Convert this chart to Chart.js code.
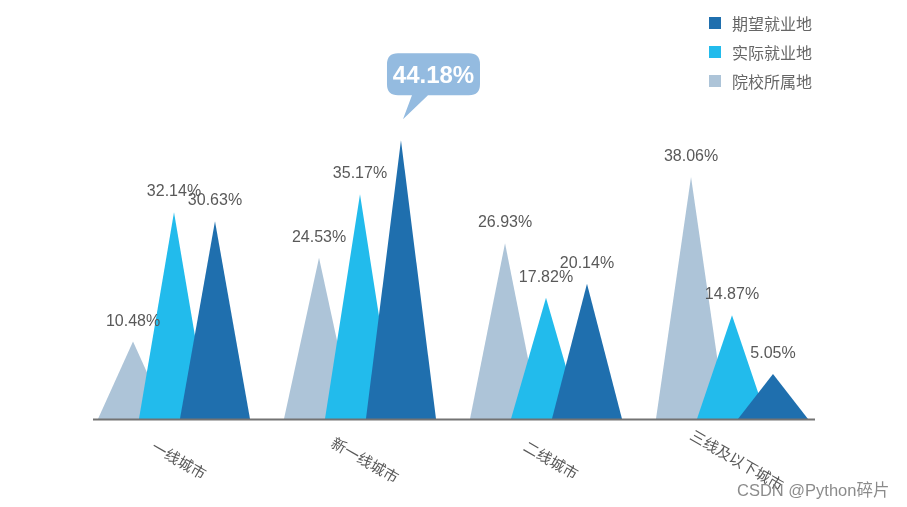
<!DOCTYPE html>
<html>
<head>
<meta charset="utf-8">
<title>就业地分布</title>
<script src="https://cdn.jsdelivr.net/npm/chart.js@4.4.0/dist/chart.umd.min.js"></script>
<style>
  html, body { margin: 0; padding: 0; background: #fff; }
  #wrap { position: relative; width: 907px; height: 507px; overflow: hidden; }
  #c { position: absolute; left: 0; top: 0; }
  .legend { position: absolute; left: 709px; top: 8px; font: 16px "Noto Sans CJK SC", sans-serif; color: #666; }
  .legend .row { display: flex; align-items: center; height: 29px; }
  .legend .sw { width: 12px; height: 12px; margin-right: 11px; }
  .mark { position: absolute; left: 737px; top: 477px; font: 16.5px "Liberation Sans", "Noto Sans CJK SC", sans-serif; color: rgba(110,110,110,0.8); white-space: nowrap; }
</style>
</head>
<body>
<div id="wrap">
  <canvas id="c" width="907" height="507"></canvas>
  <div class="legend" id="legend"></div>
  <div class="mark">CSDN @Python碎片</div>
</div>
<script>
// data
const categories = ['一线城市', '新一线城市', '二线城市', '三线及以下城市'];
const schoolValues = [10.48, 24.53, 26.93, 38.06];   // 院校所属地
const actualValues = [32.14, 35.17, 17.82, 14.87];   // 实际就业地
const expectValues = [30.63, 44.18, 20.14, 5.05];    // 期望就业地
const seriesNames = ['院校所属地', '实际就业地', '期望就业地'];
const seriesColors = ['#adc4d8', '#22bbec', '#1f6fae'];

const labelFont = '16px "Liberation Sans", Arial, sans-serif';
const textColor = '#595959';

// legend, dark series first like the original
const legend = document.getElementById('legend');
for (let i = seriesNames.length - 1; i >= 0; i--) {
    const row = document.createElement('div');
    row.className = 'row';
    row.innerHTML = '<span class="sw" style="background:' + seriesColors[i] + '"></span><span>' + seriesNames[i] + '</span>';
    legend.appendChild(row);
}

// bars are invisible, each one is replaced by a triangle
const triangles = {
    id: 'triangles',
    afterDatasetsDraw(chart) {
        const ctx = chart.ctx;
        const area = chart.chartArea;
        let peak = null;

        chart.data.datasets.forEach((ds, i) => {
            chart.getDatasetMeta(i).data.forEach((bar, j) => {
                const half = bar.width * 0.855;
                ctx.beginPath();
                ctx.moveTo(bar.x - half, area.bottom);
                ctx.lineTo(bar.x, bar.y);
                ctx.lineTo(bar.x + half, area.bottom);
                ctx.closePath();
                ctx.fillStyle = seriesColors[i];
                ctx.fill();
                if (!peak || ds.data[j] > peak.v) peak = { v: ds.data[j], bar: bar };
            });
        });

        // axis line
        ctx.save();
        ctx.strokeStyle = '#737373';
        ctx.lineWidth = 2;
        ctx.beginPath();
        ctx.moveTo(area.left + 12, area.bottom + 0.5);
        ctx.lineTo(area.right - 10, area.bottom + 0.5);
        ctx.stroke();
        ctx.restore();

        // value labels
        ctx.save();
        ctx.font = labelFont;
        ctx.fillStyle = textColor;
        ctx.textAlign = 'center';
        ctx.textBaseline = 'alphabetic';
        chart.data.datasets.forEach((ds, i) => {
            chart.getDatasetMeta(i).data.forEach((bar, j) => {
                if (bar === peak.bar) return;
                ctx.fillText(ds.data[j].toFixed(2) + '%', bar.x, bar.y - 16);
            });
        });
        ctx.restore();

        // category labels, slanted down to the right
        const xs = chart.scales.x;
        ctx.save();
        ctx.font = '15px "Noto Sans CJK SC", sans-serif';
        ctx.fillStyle = textColor;
        ctx.textAlign = 'center';
        ctx.textBaseline = 'middle';
        categories.forEach((c, j) => {
            ctx.save();
            ctx.translate(xs.getPixelForValue(j) + 5, area.bottom + 41);
            ctx.rotate(Math.PI / 6);
            ctx.fillText(c, 0, 0);
            ctx.restore();
        });
        ctx.restore();

        // callout bubble over the highest peak
        const b = peak.bar;
        const l = b.x - 14, r = b.x + 79, t = b.y - 87, btm = b.y - 45, rad = 11;
        ctx.save();
        ctx.fillStyle = '#94bbe0';
        ctx.beginPath();
        ctx.moveTo(l + rad, t);
        ctx.lineTo(r - rad, t);
        ctx.quadraticCurveTo(r, t, r, t + rad);
        ctx.lineTo(r, btm - rad);
        ctx.quadraticCurveTo(r, btm, r - rad, btm);
        ctx.lineTo(b.x + 27, btm);
        ctx.lineTo(b.x + 2, b.y - 21);
        ctx.lineTo(b.x + 11, btm);
        ctx.lineTo(l + rad, btm);
        ctx.quadraticCurveTo(l, btm, l, btm - rad);
        ctx.lineTo(l, t + rad);
        ctx.quadraticCurveTo(l, t, l + rad, t);
        ctx.closePath();
        ctx.fill();
        ctx.fillStyle = '#fff';
        ctx.font = 'bold 24px "Liberation Sans", Arial, sans-serif';
        ctx.textAlign = 'center';
        ctx.textBaseline = 'alphabetic';
        ctx.fillText(peak.v.toFixed(2) + '%', (l + r) / 2, b.y - 57);
        ctx.restore();
    }
};

const hidden = { backgroundColor: 'rgba(0,0,0,0)', borderWidth: 0, categoryPercentage: 0.661, barPercentage: 1 };

new Chart(document.getElementById('c'), {
    type: 'bar',
    data: {
        labels: categories,
        datasets: [
            { label: seriesNames[0], data: schoolValues, ...hidden },
            { label: seriesNames[1], data: actualValues, ...hidden },
            { label: seriesNames[2], data: expectValues, ...hidden }
        ]
    },
    options: {
        responsive: false,
        animation: false,
        events: [],
        layout: { padding: { left: 81, right: 82, top: 105.6, bottom: 88 } },
        plugins: { legend: { display: false }, tooltip: { enabled: false } },
        scales: {
            x: { display: false },
            y: { display: false, min: -2.5, max: 50 }
        }
    },
    plugins: [triangles]
});
</script>
</body>
</html>
